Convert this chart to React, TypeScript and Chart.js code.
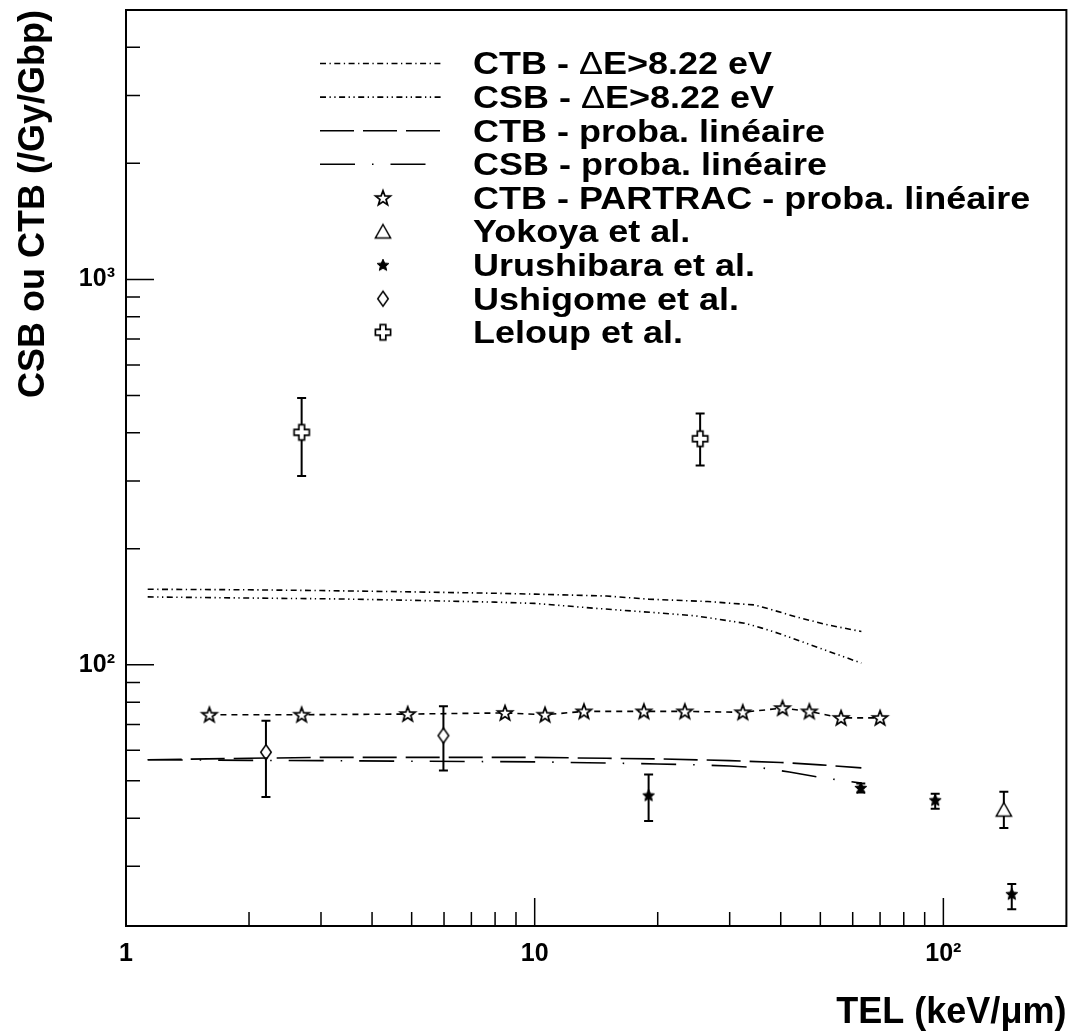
import React, { useEffect, useRef } from 'react';
import { Chart, registerables } from 'chart.js';

Chart.register(...registerables);

// ---------- axes ----------
const X_RANGE = [1, 200];
const Y_RANGE = [21, 5000];
const X_MAJOR_TICKS = [1, 10, 100];
const X_MINOR_TICKS = [2, 3, 4, 5, 6, 7, 8, 9, 20, 30, 40, 50, 60, 70, 80, 90];
const Y_MAJOR_TICKS = [100, 1000];
const Y_MINOR_TICKS = [30, 40, 50, 60, 70, 80, 90, 200, 300, 400, 500, 600, 700, 800, 900, 2000, 3000, 4000];
const X_TICK_LABELS = ['1', '10', '10²'];
const Y_TICK_LABELS = ['10²', '10³'];
const X_TITLE = 'TEL (keV/μm)';
const Y_TITLE = 'CSB ou CTB (/Gy/Gbp)';

// ---------- series labels ----------
const SERIES_LABELS = [
  'CTB - ΔE>8.22 eV',
  'CSB - ΔE>8.22 eV',
  'CTB - proba. linéaire',
  'CSB - proba. linéaire',
  'CTB - PARTRAC - proba. linéaire',
  'Yokoya et al.',
  'Urushibara et al.',
  'Ushigome et al.',
  'Leloup et al.',
];

// ---------- curves ----------
const ctbDeX = [1.13, 1.5, 2, 3, 5, 8, 10, 15, 19, 26.5, 34.5, 38, 43.3, 52, 63];
const ctbDeY = [157, 156.8, 156.5, 155.8, 154.6, 153.3, 152.5, 150.8, 148, 145.9, 143, 139, 133.4, 127, 122];

const csbDeX = [1.13, 2, 3.3, 5, 8, 10, 14, 20.5, 24.7, 32.6, 36, 39.4, 47.4, 63];
const csbDeY = [150, 149, 148.2, 147, 145.4, 144.3, 140.2, 136.1, 134, 128.2, 124.5, 120.8, 112.6, 101];

const ctbProbaX = [1.13, 2, 3, 5, 10, 15, 20, 30, 40, 50, 63];
const ctbProbaY = [56.7, 57.2, 57.5, 57.5, 57.5, 57.2, 57.0, 56.4, 55.8, 55.0, 54.0];

const csbProbaX = [1.13, 2, 3, 5, 10, 15, 20, 25, 30, 36, 42, 50, 56, 63];
const csbProbaY = [56.7, 56.5, 56.4, 56.2, 56.0, 55.6, 55.3, 55.0, 54.6, 54.0, 52.7, 51.0, 50.2, 49.3];

const partracX = [1.6, 2.69, 4.89, 8.46, 10.6, 13.2, 18.5, 23.3, 32.3, 40.4, 47.0, 56.2, 70.0];
const partracY = [74.2, 74.2, 74.5, 75.0, 74.2, 75.7, 75.7, 75.7, 75.3, 77.2, 75.7, 72.8, 72.8];

// ---------- experimental points (value, lower, upper) ----------
const yokoyaX = [140.6];
const yokoyaY = [42.1];
const yokoyaLo = [37.7];
const yokoyaHi = [46.8];

const urushibaraX = [19.0, 62.8, 95.5, 147];
const urushibaraY = [45.8, 47.9, 44.5, 25.4];
const urushibaraLo = [39.3, 46.6, 42.3, 23.2];
const urushibaraHi = [51.9, 49.2, 46.3, 27.0];

const ushigomeX = [2.2, 5.98];
const ushigomeY = [59.3, 65.5];
const ushigomeLo = [45.4, 53.2];
const ushigomeHi = [71.6, 78.0];

const leloupX = [2.69, 25.4];
const leloupY = [401, 386];
const leloupLo = [309, 329];
const leloupHi = [492, 449];

const FONT = '"Liberation Sans", Arial, Helvetica, sans-serif';

function pts(xs: number[], ys: number[], lo?: number[], hi?: number[]) {
  return xs.map((x, i) => ({ x, y: ys[i], lo: lo ? lo[i] : undefined, hi: hi ? hi[i] : undefined }));
}

function starPath(ctx: CanvasRenderingContext2D, cx: number, cy: number, R: number, r: number) {
  ctx.beginPath();
  for (let k = 0; k < 10; k++) {
    const ang = -Math.PI / 2 + (k * Math.PI) / 5;
    const rad = k % 2 === 0 ? R : r;
    const px = cx + rad * Math.cos(ang);
    const py = cy + rad * Math.sin(ang);
    if (k === 0) ctx.moveTo(px, py);
    else ctx.lineTo(px, py);
  }
  ctx.closePath();
}

function makeMarker(kind: string): HTMLCanvasElement {
  const size = 22;
  const c = document.createElement('canvas');
  c.width = size;
  c.height = size;
  const ctx = c.getContext('2d') as CanvasRenderingContext2D;
  const cx = size / 2;
  const cy = size / 2;
  ctx.strokeStyle = '#000';
  ctx.fillStyle = '#fff';
  ctx.lineWidth = 1.4;
  ctx.lineJoin = 'miter';
  if (kind === 'openStar') {
    starPath(ctx, cx, cy + 0.5, 7.8, 3.2);
    ctx.fill();
    ctx.lineWidth = 1.7;
    ctx.stroke();
  } else if (kind === 'filledStar') {
    starPath(ctx, cx, cy + 0.3, 6.2, 2.8);
    ctx.fillStyle = '#000';
    ctx.fill();
    ctx.lineWidth = 1;
    ctx.stroke();
  } else if (kind === 'triangle') {
    ctx.beginPath();
    ctx.moveTo(cx, cy - 7);
    ctx.lineTo(cx + 7.6, cy + 6.5);
    ctx.lineTo(cx - 7.6, cy + 6.5);
    ctx.closePath();
    ctx.fill();
    ctx.lineWidth = 1.5;
    ctx.stroke();
  } else if (kind === 'diamond') {
    ctx.beginPath();
    ctx.moveTo(cx, cy - 7.5);
    ctx.lineTo(cx + 5.3, cy);
    ctx.lineTo(cx, cy + 7.5);
    ctx.lineTo(cx - 5.3, cy);
    ctx.closePath();
    ctx.fill();
    ctx.lineWidth = 1.5;
    ctx.stroke();
  } else if (kind === 'cross') {
    const a = 2.8;
    const L = 7.6;
    ctx.beginPath();
    ctx.moveTo(cx - a, cy - L);
    ctx.lineTo(cx + a, cy - L);
    ctx.lineTo(cx + a, cy - a);
    ctx.lineTo(cx + L, cy - a);
    ctx.lineTo(cx + L, cy + a);
    ctx.lineTo(cx + a, cy + a);
    ctx.lineTo(cx + a, cy + L);
    ctx.lineTo(cx - a, cy + L);
    ctx.lineTo(cx - a, cy + a);
    ctx.lineTo(cx - L, cy + a);
    ctx.lineTo(cx - L, cy - a);
    ctx.lineTo(cx - a, cy - a);
    ctx.closePath();
    ctx.fill();
    ctx.lineWidth = 1.7;
    ctx.stroke();
  }
  return c;
}

// ROOT-like inward ticks and frame
const frameTicksPlugin = {
  id: 'frameTicks',
  afterDatasetsDraw(chart: any) {
    const { ctx, chartArea: a, scales } = chart;
    const xs = scales.x;
    const ys = scales.y;
    ctx.save();
    ctx.strokeStyle = '#000';
    ctx.lineWidth = 1.5;
    ctx.beginPath();
    const xt = (v: number, len: number) => {
      const px = xs.getPixelForValue(v);
      ctx.moveTo(px, a.bottom);
      ctx.lineTo(px, a.bottom - len);
    };
    const yt = (v: number, len: number) => {
      const py = ys.getPixelForValue(v);
      ctx.moveTo(a.left, py);
      ctx.lineTo(a.left + len, py);
    };
    X_MAJOR_TICKS.forEach((v) => xt(v, 28));
    X_MINOR_TICKS.forEach((v) => xt(v, 14));
    Y_MAJOR_TICKS.forEach((v) => yt(v, 28));
    Y_MINOR_TICKS.forEach((v) => yt(v, 14));
    ctx.stroke();
    ctx.lineWidth = 2;
    ctx.strokeRect(a.left, a.top, a.right - a.left, a.bottom - a.top);
    ctx.restore();
  },
};

// vertical error bars with caps, drawn under markers
const errorBarPlugin = {
  id: 'errorBars',
  beforeDatasetsDraw(chart: any) {
    const { ctx } = chart;
    const ys = chart.scales.y;
    ctx.save();
    ctx.strokeStyle = '#000';
    ctx.lineWidth = 2;
    ctx.setLineDash([]);
    chart.data.datasets.forEach((ds: any, i: number) => {
      const meta = chart.getDatasetMeta(i);
      ds.data.forEach((raw: any, j: number) => {
        if (raw.lo === undefined || raw.hi === undefined) return;
        const el = meta.data[j];
        if (!el) return;
        const x = el.x;
        const yl = ys.getPixelForValue(raw.lo);
        const yh = ys.getPixelForValue(raw.hi);
        ctx.beginPath();
        ctx.moveTo(x, yl);
        ctx.lineTo(x, yh);
        ctx.moveTo(x - 4.5, yl);
        ctx.lineTo(x + 4.5, yl);
        ctx.moveTo(x - 4.5, yh);
        ctx.lineTo(x + 4.5, yh);
        ctx.stroke();
      });
    });
    ctx.restore();
  },
};

// legend inside the frame, ROOT TLegend style
const legendPlugin = {
  id: 'rootLegend',
  afterDraw(chart: any) {
    const { ctx } = chart;
    const top = 63.5;
    const step = 33.6;
    const sampleX0 = 320;
    const sampleX1 = 442;
    const markerX = 383;
    const textX = 473;
    const fontSize = 30.5;
    ctx.save();
    chart.data.datasets.forEach((ds: any, i: number) => {
      const cy = top + step * i;
      const isMarker = (ds.pointRadius || 0) > 0;
      if (isMarker) {
        const img = ds.pointStyle as HTMLCanvasElement;
        ctx.drawImage(img, markerX - img.width / 2, cy - img.height / 2);
      } else {
        ctx.save();
        ctx.strokeStyle = ds.borderColor;
        ctx.lineWidth = ds.borderWidth;
        ctx.setLineDash(ds.borderDash || []);
        ctx.beginPath();
        ctx.moveTo(sampleX0, cy);
        ctx.lineTo(sampleX1, cy);
        ctx.stroke();
        ctx.restore();
      }
      ctx.save();
      ctx.translate(textX, cy + 10.9);
      ctx.scale(1.18, 1);
      ctx.fillStyle = '#000';
      ctx.textBaseline = 'alphabetic';
      ctx.textAlign = 'left';
      let x = 0;
      const parts = String(ds.label).split(/(Δ)/);
      parts.forEach((p: string) => {
        if (!p) return;
        ctx.font = (p === 'Δ' ? '' : 'bold ') + fontSize + 'px ' + FONT;
        ctx.fillText(p, x, 0);
        x += ctx.measureText(p).width;
      });
      ctx.restore();
    });
    ctx.restore();
  },
};

export default function App() {
  const ref = useRef<HTMLCanvasElement | null>(null);

  useEffect(() => {
    if (!ref.current) return;
    const mOpenStar = makeMarker('openStar');
    const mFilledStar = makeMarker('filledStar');
    const mTriangle = makeMarker('triangle');
    const mDiamond = makeMarker('diamond');
    const mCross = makeMarker('cross');

    const lineDs = (label: string, data: any[], dash: number[]) => ({
      label,
      data,
      showLine: true,
      borderColor: '#000',
      backgroundColor: '#000',
      borderWidth: 1.6,
      borderDash: dash,
      pointRadius: 0,
      pointHoverRadius: 0,
      tension: 0,
      fill: false,
    });
    const markerDs = (label: string, data: any[], img: HTMLCanvasElement) => ({
      label,
      data,
      showLine: false,
      pointStyle: img,
      pointRadius: 8,
      pointHoverRadius: 8,
      borderWidth: 0,
      backgroundColor: 'rgba(0,0,0,0)',
      borderColor: '#000',
    });

    const datasets: any[] = [
      lineDs(SERIES_LABELS[0], pts(ctbDeX, ctbDeY), [6, 3.5, 1.3, 3.5]),
      lineDs(SERIES_LABELS[1], pts(csbDeX, csbDeY), [6, 3.5, 1.3, 3.5, 1.3, 3.5]),
      lineDs(SERIES_LABELS[2], pts(ctbProbaX, ctbProbaY), [34, 9]),
      lineDs(SERIES_LABELS[3], pts(csbProbaX, csbProbaY), [35, 17, 1.5, 17]),
      {
        ...markerDs(SERIES_LABELS[4], pts(partracX, partracY), mOpenStar),
        showLine: true,
        borderWidth: 1.6,
        borderDash: [6, 5],
        tension: 0,
      },
      markerDs(SERIES_LABELS[5], pts(yokoyaX, yokoyaY, yokoyaLo, yokoyaHi), mTriangle),
      markerDs(SERIES_LABELS[6], pts(urushibaraX, urushibaraY, urushibaraLo, urushibaraHi), mFilledStar),
      markerDs(SERIES_LABELS[7], pts(ushigomeX, ushigomeY, ushigomeLo, ushigomeHi), mDiamond),
      markerDs(SERIES_LABELS[8], pts(leloupX, leloupY, leloupLo, leloupHi), mCross),
    ];

    const zeroPad = (s: any) => {
      s.paddingLeft = 0;
      s.paddingRight = 0;
      s.paddingTop = 0;
      s.paddingBottom = 0;
    };

    const chart = new Chart(ref.current, {
      type: 'scatter',
      data: { datasets },
      plugins: [errorBarPlugin, frameTicksPlugin, legendPlugin],
      options: {
        animation: false,
        responsive: false,
        maintainAspectRatio: false,
        events: [],
        layout: { padding: { top: 10, right: 3, bottom: 0, left: 0 } },
        plugins: {
          legend: { display: false },
          tooltip: { enabled: false },
          title: { display: false },
        },
        scales: {
          x: {
            type: 'logarithmic',
            position: 'bottom',
            min: X_RANGE[0],
            max: X_RANGE[1],
            grid: { display: false, drawTicks: false },
            border: { display: false },
            afterBuildTicks: (s: any) => {
              s.ticks = X_MAJOR_TICKS.map((v) => ({ value: v }));
            },
            afterFit: (s: any) => {
              s.height = 108;
              zeroPad(s);
            },
            ticks: {
              autoSkip: false,
              maxRotation: 0,
              minRotation: 0,
              padding: 13,
              color: '#000',
              font: { family: FONT, size: 25, weight: 'bold' },
              callback: (v: any) => {
                const k = X_MAJOR_TICKS.indexOf(Number(v));
                return k >= 0 ? X_TICK_LABELS[k] : '';
              },
            },
            title: {
              display: true,
              text: X_TITLE,
              align: 'end',
              color: '#000',
              font: { family: FONT, size: 36, weight: 'bold' },
              padding: { top: 0, bottom: -1 },
            },
          },
          y: {
            type: 'logarithmic',
            position: 'left',
            min: Y_RANGE[0],
            max: Y_RANGE[1],
            grid: { display: false, drawTicks: false },
            border: { display: false },
            afterBuildTicks: (s: any) => {
              s.ticks = Y_MAJOR_TICKS.map((v) => ({ value: v }));
            },
            afterFit: (s: any) => {
              s.width = 126;
              zeroPad(s);
            },
            ticks: {
              autoSkip: false,
              padding: 11,
              color: '#000',
              font: { family: FONT, size: 25, weight: 'bold' },
              callback: (v: any) => {
                const k = Y_MAJOR_TICKS.indexOf(Number(v));
                return k >= 0 ? Y_TICK_LABELS[k] : '';
              },
            },
            title: {
              display: true,
              text: Y_TITLE,
              align: 'end',
              color: '#000',
              font: { family: FONT, size: 36, weight: 'bold' },
              padding: { top: 12, bottom: 0 },
            },
          },
        },
      } as any,
    });
    return () => chart.destroy();
  }, []);

  return (
    <div style={{ position: 'absolute', left: 0, top: 0, width: 1076, height: 1034, background: '#fff' }}>
      <canvas ref={ref} width={1076} height={1034} style={{ display: 'block', width: 1076, height: 1034 }} />
    </div>
  );
}
